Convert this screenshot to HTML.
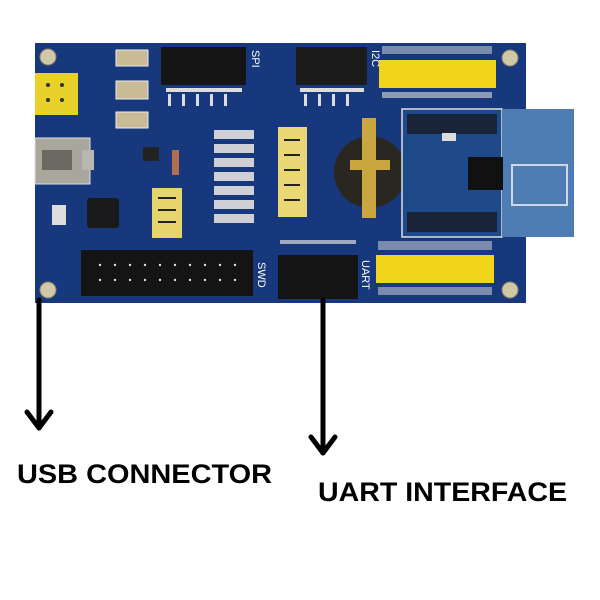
<!DOCTYPE html>
<html><head><style>
html,body{margin:0;padding:0;background:#fff;width:600px;height:600px;overflow:hidden}
svg{display:block}
.t{font-family:"Liberation Sans",sans-serif;font-weight:bold;fill:#000}
</style></head><body>
<svg width="600" height="600" viewBox="0 0 600 600" xmlns="http://www.w3.org/2000/svg">
<!-- board -->
<rect x="35" y="43" width="491" height="260" fill="#17387c"/>
<!-- mounting holes -->
<g fill="#cfc9a8" stroke="#8a8468" stroke-width="1">
<circle cx="48" cy="57" r="8"/><circle cx="510" cy="58" r="8"/>
<circle cx="48" cy="290" r="8"/><circle cx="510" cy="290" r="8"/>
</g>
<!-- left yellow jumper -->
<rect x="35" y="73" width="43" height="42" fill="#e8d12a"/>
<g fill="#333"><circle cx="48" cy="85" r="2"/><circle cx="62" cy="85" r="2"/><circle cx="48" cy="100" r="2"/><circle cx="62" cy="100" r="2"/></g>
<!-- buttons -->
<g fill="#c8bb95" stroke="#eee" stroke-width="1">
<rect x="116" y="50" width="32" height="16"/><rect x="116" y="81" width="32" height="18"/><rect x="116" y="112" width="32" height="16"/>
</g>
<!-- SPI header -->
<rect x="161" y="47" width="85" height="38" fill="#151515"/>
<rect x="296" y="47" width="71" height="38" fill="#1c1c1c"/>
<text x="252" y="50" transform="rotate(90 252 50)" font-family="Liberation Sans" font-size="11" fill="#fff">SPI</text>
<text x="372" y="50" transform="rotate(90 372 50)" font-family="Liberation Sans" font-size="11" fill="#fff">I2C</text>
<!-- small pins under headers -->
<g fill="#ddd">
<rect x="166" y="88" width="76" height="4"/><rect x="300" y="88" width="64" height="4"/>
<rect x="168" y="94" width="3" height="12"/><rect x="182" y="94" width="3" height="12"/><rect x="196" y="94" width="3" height="12"/><rect x="210" y="94" width="3" height="12"/><rect x="224" y="94" width="3" height="12"/>
<rect x="304" y="94" width="3" height="12"/><rect x="318" y="94" width="3" height="12"/><rect x="332" y="94" width="3" height="12"/><rect x="346" y="94" width="3" height="12"/>
</g>
<!-- I2C yellow -->
<rect x="379" y="60" width="117" height="28" fill="#f0d51c"/>
<g fill="#ddd"><rect x="382" y="92" width="110" height="6" opacity=".6"/><rect x="382" y="46" width="110" height="8" opacity=".5"/></g>
<!-- USB connector -->
<rect x="35" y="138" width="55" height="46" fill="#a9a79c" stroke="#ddd"/>
<rect x="42" y="150" width="30" height="20" fill="#6b6a62"/>
<rect x="82" y="150" width="12" height="20" fill="#b8b8b0"/>
<!-- misc parts -->
<rect x="87" y="198" width="32" height="30" fill="#1a1a1a" rx="3"/>
<rect x="52" y="205" width="14" height="20" fill="#dcdcdc"/>
<rect x="143" y="147" width="16" height="14" fill="#222"/>
<rect x="172" y="150" width="7" height="25" fill="#b07050"/>
<!-- small yellow jumper -->
<rect x="152" y="188" width="30" height="50" fill="#e6d56a"/>
<g stroke="#222" stroke-width="2"><line x1="158" y1="198" x2="176" y2="198"/><line x1="158" y1="210" x2="176" y2="210"/><line x1="158" y1="222" x2="176" y2="222"/></g>
<!-- resistor array -->
<g fill="#cfd0d6">
<rect x="214" y="130" width="40" height="9"/><rect x="214" y="144" width="40" height="9"/><rect x="214" y="158" width="40" height="9"/><rect x="214" y="172" width="40" height="9"/><rect x="214" y="186" width="40" height="9"/><rect x="214" y="200" width="40" height="9"/><rect x="214" y="214" width="40" height="9"/>
</g>
<!-- yellow vertical header -->
<rect x="278" y="127" width="29" height="90" fill="#e9d873"/>
<g stroke="#222" stroke-width="2"><line x1="284" y1="140" x2="300" y2="140"/><line x1="284" y1="155" x2="300" y2="155"/><line x1="284" y1="170" x2="300" y2="170"/><line x1="284" y1="185" x2="300" y2="185"/><line x1="284" y1="200" x2="300" y2="200"/></g>
<!-- coin battery -->
<circle cx="370" cy="172" r="36" fill="#2a2620"/>
<rect x="362" y="118" width="14" height="100" fill="#c9a640"/>
<rect x="350" y="160" width="40" height="10" fill="#c9a640"/>
<!-- module -->
<rect x="402" y="109" width="100" height="128" fill="#1f4a8a" stroke="#ddd" stroke-width="1.5"/>
<rect x="502" y="109" width="72" height="128" fill="#4d7db2"/>
<rect x="407" y="114" width="90" height="20" fill="#1a2438"/>
<rect x="407" y="212" width="90" height="20" fill="#1a2438"/>
<rect x="468" y="157" width="35" height="33" fill="#111"/>
<rect x="442" y="133" width="14" height="8" fill="#ddd"/>
<rect x="512" y="165" width="55" height="40" fill="none" stroke="#cfd8e6" stroke-width="2"/>
<!-- SWD -->
<rect x="81" y="250" width="172" height="46" fill="#141414"/>
<g fill="#ddd">
<circle cx="100" cy="265" r="1.2"/><circle cx="115" cy="265" r="1.2"/><circle cx="130" cy="265" r="1.2"/><circle cx="145" cy="265" r="1.2"/><circle cx="160" cy="265" r="1.2"/><circle cx="175" cy="265" r="1.2"/><circle cx="190" cy="265" r="1.2"/><circle cx="205" cy="265" r="1.2"/><circle cx="220" cy="265" r="1.2"/><circle cx="235" cy="265" r="1.2"/>
<circle cx="100" cy="280" r="1.2"/><circle cx="115" cy="280" r="1.2"/><circle cx="130" cy="280" r="1.2"/><circle cx="145" cy="280" r="1.2"/><circle cx="160" cy="280" r="1.2"/><circle cx="175" cy="280" r="1.2"/><circle cx="190" cy="280" r="1.2"/><circle cx="205" cy="280" r="1.2"/><circle cx="220" cy="280" r="1.2"/><circle cx="235" cy="280" r="1.2"/>
</g>
<text x="258" y="262" transform="rotate(90 258 262)" font-family="Liberation Sans" font-size="11" fill="#fff">SWD</text>
<!-- UART -->
<rect x="278" y="255" width="80" height="44" fill="#151515"/>
<g fill="#ddd"><rect x="280" y="240" width="76" height="4" opacity=".7"/></g>
<text x="362" y="260" transform="rotate(90 362 260)" font-family="Liberation Sans" font-size="11" fill="#fff">UART</text>
<rect x="376" y="255" width="118" height="28" fill="#f0d51c"/>
<g fill="#ddd"><rect x="378" y="287" width="114" height="8" opacity=".5"/><rect x="378" y="241" width="114" height="9" opacity=".5"/></g>
<!-- arrows -->
<g stroke="#000" stroke-width="5" fill="none" stroke-linecap="round" stroke-linejoin="round">
<line x1="39" y1="300" x2="39" y2="428"/>
<polyline points="27,412 39,428 51,412"/>
<line x1="323" y1="300" x2="323" y2="453"/>
<polyline points="311,437 323,453 335,437"/>
</g>
<text class="t" x="17" y="483" font-size="27" textLength="255" lengthAdjust="spacingAndGlyphs">USB CONNECTOR</text>
<text class="t" x="318" y="501" font-size="27" textLength="249" lengthAdjust="spacingAndGlyphs">UART INTERFACE</text>
</svg>
</body></html>
